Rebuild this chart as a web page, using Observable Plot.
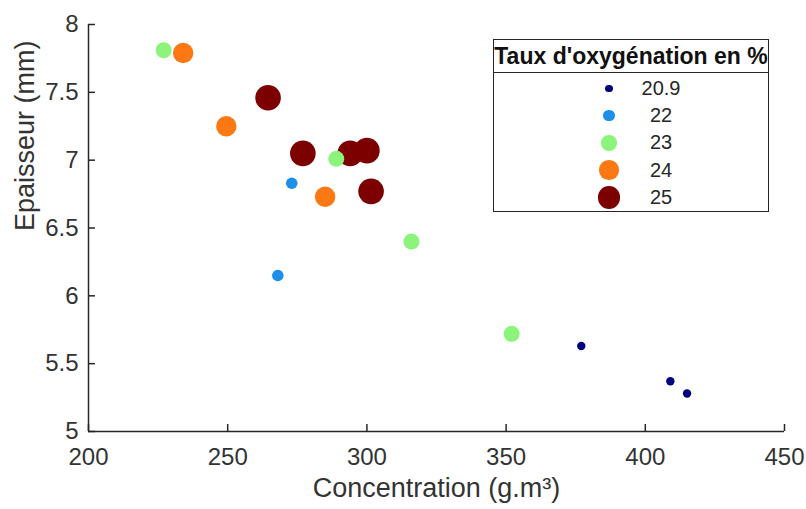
<!DOCTYPE html>
<html>
<head>
<meta charset="utf-8">
<script src="https://cdn.jsdelivr.net/npm/d3@7"></script>
<script src="https://cdn.jsdelivr.net/npm/@observablehq/plot@0.6"></script>
<style>
  html, body { margin: 0; padding: 0; background: #fff; }
  #wrap { position: relative; width: 806px; height: 509px; font-family: "Liberation Sans", Arial, sans-serif; }
  #legend { position: absolute; left: 493px; top: 39px; width: 274px; height: 171px; border: 1.5px solid #262626; background: #fff; color: #262626; }
  #legend .title { height: 32px; border-bottom: 1.5px solid #262626; font-weight: bold; font-size: 23px; text-align: center; line-height: 32px; color: #111; white-space: nowrap; }
  #legend .row { position: absolute; left: 0; width: 274px; height: 27px; }
  #legend .sw { position: absolute; border-radius: 50%; }
  #legend .lab { position: absolute; left: 137px; width: 60px; text-align: center; font-size: 20px; line-height: 27px; }
</style>
</head>
<body>
<div id="wrap"></div>
<script>
// Data
const concentration = [377, 409, 415, 273, 268, 227, 289, 316, 352, 234, 249.5, 285, 264.5, 277, 294, 300, 301.5];
const epaisseur     = [5.63, 5.37, 5.28, 6.83, 6.15, 7.81, 7.01, 6.40, 5.72, 7.79, 7.25, 6.73, 7.46, 7.05, 7.05, 7.07, 6.77];
const taux          = [20.9, 20.9, 20.9, 22, 22, 23, 23, 23, 23, 24, 24, 24, 25, 25, 25, 25, 25];
const levels = [20.9, 22, 23, 24, 25];
const levelLabels = ["20.9", "22", "23", "24", "25"];
const colors = ["#00007e", "#1c8fea", "#8cf47a", "#fb7812", "#7d0000"];
const radii = [4.2, 5.8, 8, 10.2, 12.8];
const legendRadii = [3.8, 5.7, 7.7, 9.7, 11.3];
const xTicks = [200, 250, 300, 350, 400, 450];
const yTicks = [5, 5.5, 6, 6.5, 7, 7.5, 8];
const xLabel = "Concentration (g.m³)";
const yLabel = "Epaisseur (mm)";
const legendTitle = "Taux d'oxygénation en %";

const data = concentration.map((c, i) => ({c, e: epaisseur[i], t: taux[i]}));

const W = 806, H = 509, mL = 88, mR = 22, mT = 24, mB = 78;
const axisColor = "#262626";
const textColor = "#333333";

const chart = Plot.plot({
  width: W, height: H,
  marginLeft: mL, marginRight: mR, marginTop: mT, marginBottom: mB,
  style: {fontFamily: '"Liberation Sans", Arial, sans-serif', color: axisColor, background: "#fff", overflow: "visible"},
  x: {domain: [200, 450]},
  y: {domain: [5, 8]},
  color: {type: "ordinal", domain: levels, range: colors},
  r: {type: "linear", domain: levels, range: radii},
  marks: [
    Plot.dot(data, {x: "c", y: "e", r: "t", fill: "t", stroke: null}),
    Plot.axisX(xTicks, {tickSize: 0, tickPadding: 16, fontSize: 24, label: null, fill: textColor}),
    Plot.axisY(yTicks, {tickSize: 0, tickPadding: 10, fontSize: 24, label: null, fill: textColor, tickFormat: d => String(d)}),
    Plot.tickX(xTicks, {x: d => d, insetTop: H - mT - mB - 7, stroke: axisColor, strokeWidth: 1.5}),
    Plot.tickY(yTicks, {y: d => d, insetRight: W - mL - mR - 7, stroke: axisColor, strokeWidth: 1.5}),
    Plot.ruleX([200], {stroke: axisColor, strokeWidth: 1.5}),
    Plot.ruleY([5], {stroke: axisColor, strokeWidth: 1.5}),
    Plot.text([xLabel], {text: d => d, frameAnchor: "bottom", dy: 65, fontSize: 27, fill: textColor}),
    Plot.text([yLabel], {text: d => d, frameAnchor: "left", dx: -63, dy: 3, rotate: -90, fontSize: 27, fill: textColor})
  ]
});

const wrap = document.getElementById("wrap");
wrap.appendChild(chart);

// Legend (HTML overlay built from the same arrays)
const leg = document.createElement("div");
leg.id = "legend";
const title = document.createElement("div");
title.className = "title";
title.textContent = legendTitle;
leg.appendChild(title);
levels.forEach((lv, i) => {
  const row = document.createElement("div");
  row.className = "row";
  row.style.top = (35 + i * 27.2) + "px";
  const sw = document.createElement("div");
  sw.className = "sw";
  const r = legendRadii[i];
  sw.style.width = (2 * r) + "px";
  sw.style.height = (2 * r) + "px";
  sw.style.left = (115 - r) + "px";
  sw.style.top = (13.5 - r) + "px";
  sw.style.background = colors[i];
  const lab = document.createElement("div");
  lab.className = "lab";
  lab.textContent = levelLabels[i];
  row.appendChild(sw);
  row.appendChild(lab);
  leg.appendChild(row);
});
wrap.appendChild(leg);
</script>
</body>
</html>
